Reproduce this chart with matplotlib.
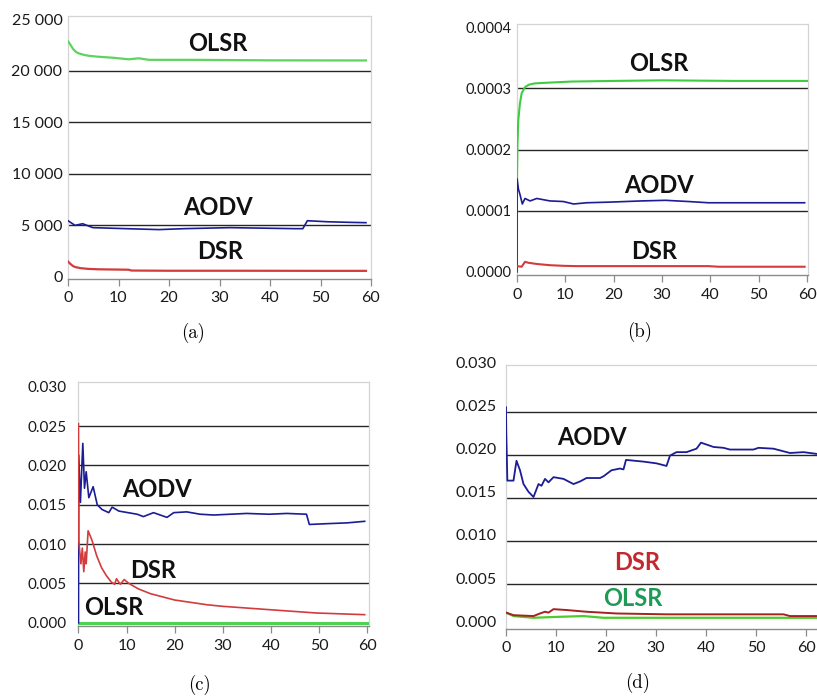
import numpy as np
import matplotlib
matplotlib.use("Agg")
import matplotlib.pyplot as plt
from matplotlib.ticker import FuncFormatter
from matplotlib.transforms import ScaledTranslation

plt.rcParams['font.family'] = ['Lato', 'DejaVu Sans']

# ---- data ----
# (a)
a_olsr_t = [0, 0.5, 1, 1.5, 2, 3, 4, 6, 9, 12, 14, 16, 25, 40, 59]
a_olsr = [22850, 22500, 22100, 21850, 21700, 21550, 21450, 21350, 21250, 21100, 21200, 21050, 21050, 21000, 20990]
a_aodv_t = [0, 1.4, 2.9, 4.9, 11.5, 18, 23, 32, 45, 46.5, 47.4, 51.4, 56, 59]
a_aodv = [5450, 5000, 5160, 4780, 4680, 4590, 4680, 4780, 4680, 4680, 5450, 5350, 5290, 5260]
a_dsr_t = [0, 0.5, 1, 1.5, 2.5, 4, 6, 9, 12, 12.6, 20, 35, 50, 59]
a_dsr = [1500, 1250, 1050, 950, 850, 780, 740, 720, 700, 620, 600, 600, 590, 590]

# (b)
b_olsr_t = [0, 0.1, 0.27, 0.6, 0.97, 1.66, 2.5, 3.7, 6, 11.3, 20, 30, 45, 60]
b_olsr = [0.000150, 0.000210, 0.000248, 0.000275, 0.000292, 0.000302, 0.000306, 0.000308,
          0.000309, 0.000311, 0.000312, 0.000313, 0.000312, 0.000312]
b_aodv_t = [0, 0.02, 0.3, 0.6, 1.1, 1.65, 2.7, 4.1, 6.8, 9.6, 11.7, 14.4, 19, 25.8, 30.7, 35.5, 39.6, 59.5]
b_aodv = [0.0, 0.000152, 0.000135, 0.000127, 0.000111, 0.000120, 0.000116, 0.000120, 0.000116,
          0.000115, 0.000111, 0.000113, 0.000114, 0.000116, 0.000117, 0.000115, 0.000113, 0.000113]
b_dsr_t = [0, 0.96, 1.66, 2.35, 4.1, 6.8, 9.6, 12.3, 39.6, 41.7, 59.5]
b_dsr = [9.5e-6, 8.5e-6, 1.65e-5, 1.5e-5, 1.3e-5, 1.1e-5, 1.0e-5, 9.5e-6, 9.5e-6, 8.5e-6, 8.5e-6]

# (c)
c_aodv_t = [0, 0.02, 0.05, 0.4, 0.9, 1.25, 1.6, 2.15, 3.05, 3.9, 4.9, 6.3, 7, 8.4, 12.2, 13.5,
            15.6, 18.4, 19.8, 22.5, 25.3, 28.1, 35, 39.6, 43.3, 47.4, 48, 51.6, 55.8, 59.5]
c_aodv = [0.0, 0.0117, 0.0213, 0.0153, 0.0228, 0.0171, 0.0192, 0.0159, 0.0173, 0.0150, 0.0144,
          0.0140, 0.0147, 0.0142, 0.0138, 0.0135, 0.0140, 0.0134, 0.0140, 0.0141, 0.0138, 0.0137,
          0.0139, 0.0138, 0.0139, 0.0138, 0.0125, 0.0126, 0.0127, 0.0129]
c_dsr_t = [0, 0.05, 0.5, 0.8, 1.1, 1.4, 1.6, 2.0, 2.8, 3.8, 4.8, 5.8, 6.8, 7.5, 7.9, 8.7, 9.5,
           10.5, 12.5, 15, 20, 26.7, 30, 39.1, 49.5, 59.5]
c_dsr = [0.0253, 0.0105, 0.0075, 0.0095, 0.0065, 0.0090, 0.0075, 0.0117, 0.0105, 0.0085, 0.0070,
         0.0060, 0.0052, 0.0049, 0.0056, 0.0049, 0.0055, 0.0050, 0.0043, 0.0037, 0.0029, 0.0023,
         0.0021, 0.0017, 0.00125, 0.00104]
c_olsr_t = [0, 60]
c_olsr = [0.0, 0.0]

# (d)
d_aodv_t = [0, 0.05, 0.27, 1.5, 2.1, 2.8, 3.5, 4.5, 5.5, 6.5, 7.1, 7.8, 8.5, 9.5, 11.5, 13.5,
            14.8, 16.1, 18.8, 19.5, 21.1, 22.8, 23.5, 24, 27.5, 30.1, 32.1, 32.8, 34.1, 36.1,
            38.1, 39, 41.5, 43.5, 44.8, 47.5, 49.5, 50.5, 53.5, 56.8, 59.5, 62.1]
d_aodv = [0.0255, 0.0228, 0.0170, 0.0170, 0.0193, 0.0182, 0.0166, 0.0157, 0.0151, 0.0166, 0.0164,
          0.0172, 0.0168, 0.0174, 0.0172, 0.0166, 0.0169, 0.0173, 0.0173, 0.0175, 0.0182, 0.0184,
          0.0183, 0.0194, 0.0192, 0.0190, 0.0187, 0.0199, 0.0203, 0.0203, 0.0207, 0.0214, 0.0209,
          0.0208, 0.0206, 0.0206, 0.0206, 0.0208, 0.0207, 0.0202, 0.0203, 0.0201]
d_dsr_t = [0, 1.5, 5.5, 6.8, 7.8, 8.5, 9.5, 12.1, 16.1, 22.1, 32.1, 55.5, 56.8, 62]
d_dsr = [0.0017, 0.0014, 0.0013, 0.0016, 0.0018, 0.0017, 0.0021, 0.0020, 0.0018, 0.0016,
         0.0015, 0.0015, 0.0013, 0.0013]
d_olsr_t = [0, 1.5, 5.5, 10, 15.5, 19.5, 30, 62]
d_olsr = [0.0017, 0.0013, 0.0011, 0.0012, 0.0013, 0.0011, 0.0011, 0.0011]

x_ticks = [0, 10, 20, 30, 40, 50, 60]
a_yticks = [0, 5000, 10000, 15000, 20000, 25000]
b_yticks = [0.0, 0.0001, 0.0002, 0.0003, 0.0004]
cd_yticks = [0.0, 0.005, 0.010, 0.015, 0.020, 0.025, 0.030]

W, H = 817, 696
fig = plt.figure(figsize=(W / 100, H / 100), dpi=100)


def px_axes(left, top, right, bottom):
    return fig.add_axes([left / W, 1 - bottom / H, (right - left) / W, (bottom - top) / H])


def style(ax, yticks, fmt, ylab_size, ypad, show_right=True):
    ax.set_yticks(yticks)
    ax.set_xticks(x_ticks)
    ax.yaxis.set_major_formatter(FuncFormatter(fmt))
    # gridlines only at the inner ticks (not at 0, not at the top)
    ax.hlines(yticks[1:-1], 0, 1, transform=ax.get_yaxis_transform(),
              color='#262626', lw=1.0, zorder=1)
    for s in ['top', 'left', 'right']:
        ax.spines[s].set_color('#d4d4d4')
        ax.spines[s].set_linewidth(0.9)
    ax.spines['right'].set_visible(show_right)
    ax.spines['bottom'].set_color('#8c8c8c')
    ax.spines['bottom'].set_linewidth(1.0)
    ax.tick_params(axis='y', length=0, pad=ypad, labelsize=ylab_size, labelcolor='#1a1a1a')
    ax.tick_params(axis='x', length=5, width=0.9, color='#8c8c8c', pad=4,
                   labelsize=11.5, labelcolor='#1a1a1a')


green = '#5fd35f'
blue = '#1c1c94'
red = '#d23c3c'
lab = dict(fontsize=17, fontweight='bold', ha='center', va='center', color='#111111')

# (a)
ax = px_axes(68, 16, 371, 279)
ax.plot(a_olsr_t, a_olsr, color=green, lw=1.6, zorder=3)
ax.plot(a_aodv_t, a_aodv, color=blue, lw=1.2, zorder=3)
ax.plot(a_dsr_t, a_dsr, color=red, lw=1.6, zorder=3)
ax.set_xlim(0, 60)
ax.set_ylim(-200, 25300)
style(ax, a_yticks, lambda v, p: f"{int(v):,}".replace(',', ' '), 11.5, 4)
ax.text(29.7, 22590, 'OLSR', **lab)
ax.text(29.7, 6760, 'AODV', **lab)
ax.text(30.1, 2420, 'DSR', **lab)

# (b)
ax = px_axes(517, 24, 808, 275)
ax.plot(b_olsr_t, b_olsr, color='#3fcc3f', lw=1.5, zorder=3)
ax.plot(b_aodv_t, b_aodv, color=blue, lw=1.2, zorder=3)
ax.plot(b_dsr_t, b_dsr, color=red, lw=1.5, zorder=3)
ax.set_xlim(0, 60.2)
ax.set_ylim(-0.000005, 0.000405)
style(ax, b_yticks, lambda v, p: f"{v:.4f}", 10.5, 4)
ax.text(29.4, 0.000341, 'OLSR', **lab)
ax.text(29.4, 0.000142, 'AODV', **lab)
ax.text(28.4, 0.000033, 'DSR', **lab)

# (c)
ax = px_axes(78, 382, 369, 626)
ax.plot(c_olsr_t, c_olsr, color='#4fd24f', lw=2.2, zorder=3)
ax.plot(c_aodv_t, c_aodv, color=blue, lw=1.2, zorder=3)
ax.plot(c_dsr_t, c_dsr, color=red, lw=1.2, zorder=3)
ax.set_xlim(-0.1, 60.4)
ax.set_ylim(-0.0004, 0.0306)
style(ax, cd_yticks, lambda v, p: f"{v:.3f}", 11, 8)
ax.text(16.4, 0.0170, 'AODV', **lab)
ax.text(15.6, 0.0067, 'DSR', **lab)
ax.text(7.3, 0.0019, 'OLSR', **lab)

# (d)
ax = px_axes(506, 365, 817, 629)
ax.plot(d_olsr_t, d_olsr, color='#4ccc2a', lw=1.6, zorder=3)
ax.plot(d_dsr_t, d_dsr, color='#a82020', lw=1.4, zorder=3)
ax.plot(d_aodv_t, d_aodv, color=blue, lw=1.3, zorder=3)
ax.set_xlim(0, 62.2)
ax.set_ylim(-0.0002, 0.0304)
style(ax, cd_yticks, lambda v, p: f"{v:.3f}", 11.5, 7, show_right=False)
shift = ScaledTranslation(0, 6 / 100, fig.dpi_scale_trans)
for t in ax.get_yticklabels():
    t.set_transform(t.get_transform() + shift)
ax.text(17.2, 0.0220, 'AODV', **lab)
ax.text(26.2, 0.0075, 'DSR', **dict(lab, color='#c3282e'))
ax.text(25.4, 0.0033, 'OLSR', **dict(lab, color='#1f9a55'))

# captions
cap = dict(fontsize=13.5, ha='center', va='center', family='cmr10')
fig.text(193 / W, 1 - 333 / H, '(a)', **cap)
fig.text(640 / W, 1 - 332 / H, '(b)', **cap)
fig.text(200 / W, 1 - 685 / H, '(c)', **cap)
fig.text(638 / W, 1 - 683 / H, '(d)', **cap)

fig.savefig('out.png', dpi=100)
